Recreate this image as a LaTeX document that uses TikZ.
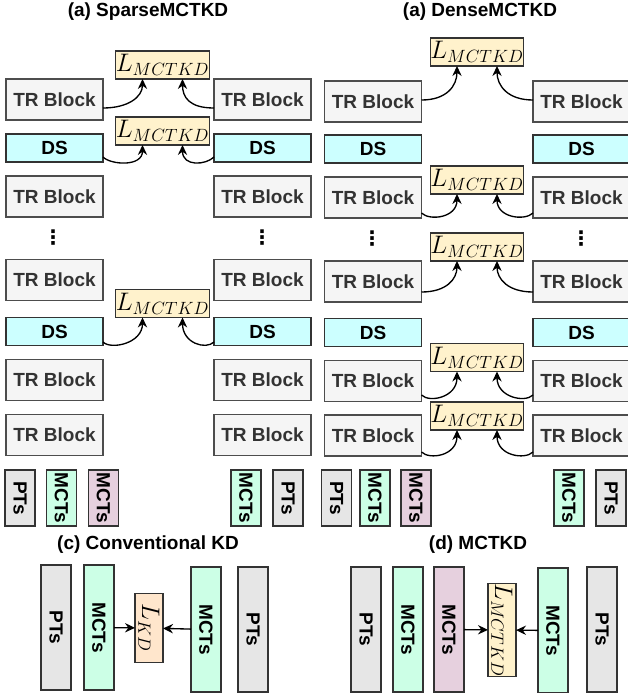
\RequirePackage{fix-cm}
\documentclass[tikz,border=0pt]{standalone}
\usepackage{fontspec}
\setmainfont{Liberation Sans}
\newfontfamily\dotsfont{DejaVu Sans}
\usetikzlibrary{arrows.meta,calc}

\definecolor{trfill}{HTML}{F5F5F5}
\definecolor{trtext}{HTML}{333333}
\definecolor{trline}{HTML}{4D4D4D}
\definecolor{dsfill}{HTML}{CCFFFF}
\definecolor{lfill}{HTML}{FFF2CC}
\definecolor{ptfill}{HTML}{E6E6E6}
\definecolor{mgfill}{HTML}{CCFFE6}
\definecolor{mpfill}{HTML}{E6D0DE}
\definecolor{kdfill}{HTML}{FFE6CC}
\definecolor{edge}{HTML}{333333}

\begin{document}
\begin{tikzpicture}[x=0.75pt,y=-0.75pt,
 every node/.style={font=\fontsize{14.25pt}{16pt}\selectfont\bfseries},
 base/.style={draw=edge,line width=1pt,inner sep=0pt,outer sep=0pt},
 trblock/.style={base,draw=trline,fill=trfill,text=trtext,minimum width=72.75pt,minimum height=30.75pt},
 dsblock/.style={base,fill=dsfill,minimum width=72.75pt,minimum height=21pt},
 lossbox/.style={base,fill=lfill,minimum width=62.25pt,minimum height=21pt,font=\fontsize{19pt}{20pt}\selectfont},
 lossv/.style={base,rotate=-90,minimum height=21pt,font=\fontsize{19pt}{20pt}\selectfont},
 smallv/.style={base,rotate=-90,minimum width=42pt,minimum height=22.5pt},
 tallv/.style={base,rotate=-90,minimum width=93.75pt,minimum height=22.5pt},
 ptbox/.style={fill=ptfill},
 mgbox/.style={fill=mgfill},
 mpbox/.style={fill=mpfill},
 dotsnode/.style={inner sep=0pt,font=\fontsize{15pt}{16pt}\selectfont\dotsfont\bfseries},
 conn/.style={draw=black,line width=1pt,-{Stealth[length=7.5pt,width=7pt,inset=2.5pt]}},
 title/.style={inner sep=0pt}
]
\useasboundingbox (0,0) rectangle (628,693);
\fill[white] (0,0) rectangle (628,693);

% ---------------- (a) SparseMCTKD ----------------
\node[title] (tA) at (148,12) {(a) SparseMCTKD};
\node[trblock] (s1l) at (54.5,99.5) {TR Block};
\node[trblock] (s1r) at (262.5,99.5) {TR Block};
\node[lossbox] (sL1) at (162.5,65) {$L_{MCTKD}$};
\node[dsblock] (s2l) at (54.5,148) {DS};
\node[dsblock] (s2r) at (262.5,148) {DS};
\node[lossbox] (sL2) at (162.5,131) {$L_{MCTKD}$};
\node[trblock] (s3l) at (54.5,196.5) {TR Block};
\node[trblock] (s3r) at (262.5,196.5) {TR Block};
\node[dotsnode] (sdl) at (53,238) {⋮};
\node[dotsnode] (sdr) at (262,238) {⋮};
\node[trblock] (s4l) at (54.5,280) {TR Block};
\node[trblock] (s4r) at (262.5,280) {TR Block};
\node[dsblock] (s5l) at (54.5,331.5) {DS};
\node[dsblock] (s5r) at (262.5,331.5) {DS};
\node[lossbox] (sL3) at (162.5,303.5) {$L_{MCTKD}$};
\node[trblock] (s6l) at (54.5,380) {TR Block};
\node[trblock] (s6r) at (262.5,380) {TR Block};
\node[trblock] (s7l) at (54.5,435) {TR Block};
\node[trblock] (s7r) at (262.5,435) {TR Block};

\node[smallv,ptbox] (sb1) at (20,498) {PTs};
\node[smallv,mgbox] (sb2) at (61.5,498) {MCTs};
\node[smallv,mpbox] (sb3) at (103.5,498) {MCTs};
\node[smallv,mgbox] (sb4) at (246,498) {MCTs};
\node[smallv,ptbox] (sb5) at (288,498) {PTs};

\draw[conn] ($(s1l.east)+(0,8.5)$) .. controls +(25,0) and +(0,18) .. ($(sL1.south)+(-20,0)$);
\draw[conn] ($(s1r.west)+(0,8.5)$) .. controls +(-25,0) and +(0,18) .. ($(sL1.south)+(20,0)$);
\draw[conn] ($(s2l.east)+(0,9)$) .. controls +(8,8) and +(0,22) .. ($(sL2.south)+(-20,0)$);
\draw[conn] ($(s2r.west)+(0,9)$) .. controls +(-8,8) and +(0,22) .. ($(sL2.south)+(20,0)$);
\draw[conn] ($(s5l.east)+(0,10.5)$) .. controls +(8,8) and +(0,26) .. ($(sL3.south)+(-20,0)$);
\draw[conn] ($(s5r.west)+(0,10.5)$) .. controls +(-8,8) and +(0,26) .. ($(sL3.south)+(20,0)$);

% ---------------- (a) DenseMCTKD ----------------
\node[title] (tB) at (480,12) {(a) DenseMCTKD};
\node[lossbox] (dL1) at (477,52) {$L_{MCTKD}$};
\node[trblock] (d1l) at (373,101.5) {TR Block};
\node[trblock] (d1r) at (581.5,101.5) {TR Block};
\node[dsblock] (d2l) at (373,149) {DS};
\node[dsblock] (d2r) at (581.5,149) {DS};
\node[lossbox] (dL2) at (477,180) {$L_{MCTKD}$};
\node[trblock] (d3l) at (373,197.5) {TR Block};
\node[trblock] (d3r) at (581.5,197.5) {TR Block};
\node[dotsnode] (ddl) at (372,239) {⋮};
\node[dotsnode] (ddr) at (581,239) {⋮};
\node[lossbox] (dL3) at (477,247) {$L_{MCTKD}$};
\node[trblock] (d4l) at (373,281.5) {TR Block};
\node[trblock] (d4r) at (581.5,281.5) {TR Block};
\node[dsblock] (d5l) at (373,332.5) {DS};
\node[dsblock] (d5r) at (581.5,332.5) {DS};
\node[lossbox] (dL4) at (477,357.5) {$L_{MCTKD}$};
\node[trblock] (d6l) at (373,381) {TR Block};
\node[trblock] (d6r) at (581.5,381) {TR Block};
\node[lossbox] (dL5) at (477,416) {$L_{MCTKD}$};
\node[trblock] (d7l) at (373,435.5) {TR Block};
\node[trblock] (d7r) at (581.5,435.5) {TR Block};

\node[smallv,ptbox] (db1) at (336.5,498) {PTs};
\node[smallv,mgbox] (db2) at (375,498) {MCTs};
\node[smallv,mpbox] (db3) at (416,498) {MCTs};
\node[smallv,mgbox] (db4) at (569,498) {MCTs};
\node[smallv,ptbox] (db5) at (611,498) {PTs};

\draw[conn] ($(d1l.east)+(0,-1.5)$) .. controls +(25,0) and +(0,20) .. ($(dL1.south)+(-20,0)$);
\draw[conn] ($(d1r.west)+(0,-1.5)$) .. controls +(-25,0) and +(0,20) .. ($(dL1.south)+(20,0)$);
\draw[conn] ($(d3l.east)+(0,15.5)$) .. controls +(8,8) and +(0,24) .. ($(dL2.south)+(-20,0)$);
\draw[conn] ($(d3r.west)+(0,15.5)$) .. controls +(-8,8) and +(0,24) .. ($(dL2.south)+(20,0)$);
\draw[conn] ($(d4l.east)+(0,10.5)$) .. controls +(25,0) and +(0,18) .. ($(dL3.south)+(-20,0)$);
\draw[conn] ($(d4r.west)+(0,10.5)$) .. controls +(-25,0) and +(0,18) .. ($(dL3.south)+(20,0)$);
\draw[conn] ($(d6l.east)+(0,14)$) .. controls +(8,8) and +(0,26) .. ($(dL4.south)+(-20,0)$);
\draw[conn] ($(d6r.west)+(0,14)$) .. controls +(-8,8) and +(0,26) .. ($(dL4.south)+(20,0)$);
\draw[conn] ($(d7l.east)+(0,16.5)$) .. controls +(8,8) and +(0,26) .. ($(dL5.south)+(-20,0)$);
\draw[conn] ($(d7r.west)+(0,16.5)$) .. controls +(-8,8) and +(0,26) .. ($(dL5.south)+(20,0)$);

% ---------------- (c) Conventional KD ----------------
\node[title] (tC) at (148,545) {(c) Conventional KD};
\node[tallv,ptbox] (c1) at (56,627.5) {PTs};
\node[tallv,mgbox] (c2) at (99,627.5) {MCTs};
\node[lossv,fill=kdfill,minimum width=51.75pt] (cL) at (149,628) {$L_{KD}$};
\node[tallv,mgbox] (c4) at (206,629.5) {MCTs};
\node[tallv,ptbox] (c5) at (253,629.5) {PTs};
\draw[conn] (c2) -- (cL);
\draw[conn] (c4) -- (cL);

% ---------------- (d) MCTKD ----------------
\node[title] (tD) at (478,545) {(d) MCTKD};
\node[tallv,ptbox] (e1) at (366,629.5) {PTs};
\node[tallv,mgbox] (e2) at (408,629.5) {MCTs};
\node[tallv,mpbox] (e3) at (449,629.5) {MCTs};
\node[lossv,fill=lfill,minimum width=63pt] (eL) at (502,630) {$L_{MCTKD}$};
\node[tallv,mgbox] (e4) at (553,630.5) {MCTs};
\node[tallv,ptbox] (e5) at (602,629.5) {PTs};
\draw[conn] (e3) -- (eL);
\draw[conn] (e4) -- (eL);
\end{tikzpicture}
\end{document}
